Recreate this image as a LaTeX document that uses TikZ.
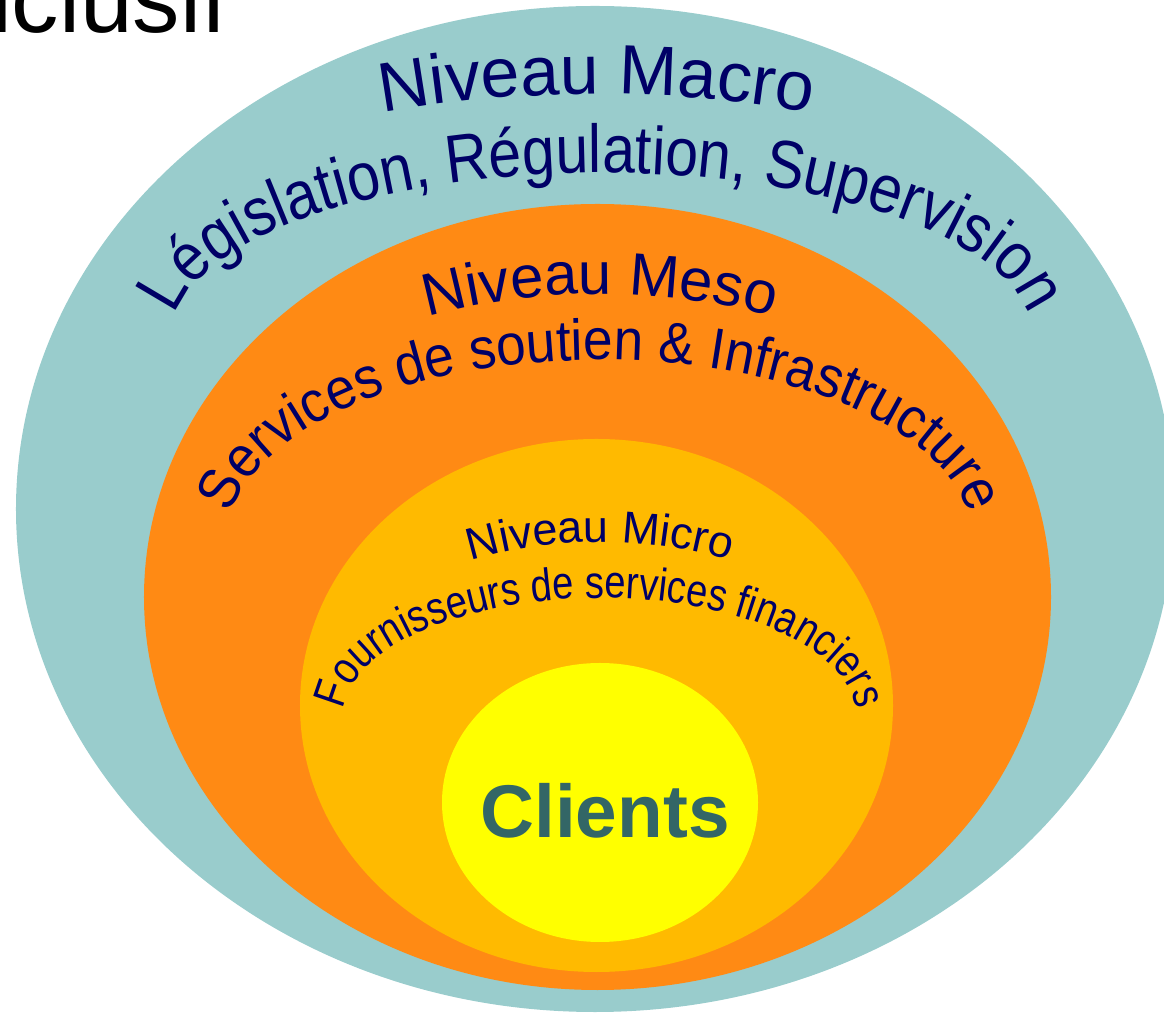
\documentclass[tikz,border=0pt]{standalone}
\usepackage{fontspec}
\setmainfont{Liberation Sans}
\newfontfamily\fA{Liberation Sans}
\newfontfamily\fB[FakeStretch=0.87]{Liberation Sans}
\newfontfamily\fD[FakeStretch=0.92]{Liberation Sans}
\newfontfamily\fF[FakeStretch=0.83]{Liberation Sans}
\usetikzlibrary{shapes.geometric,decorations.text}
\definecolor{tealc}{HTML}{99CCCC}
\definecolor{orangec}{HTML}{FF8A14}
\definecolor{amberc}{HTML}{FFBA00}
\definecolor{yellowc}{HTML}{FFFF00}
\definecolor{navyc}{HTML}{000066}
\definecolor{clientc}{HTML}{336666}
\tikzset{
  ring/.style={ellipse, inner sep=0pt, draw=none},
  arctext/.style={decorate, decoration={text along path, text align=center, text color=navyc, text={#1}}}
}
\begin{document}
\begin{tikzpicture}[x=1bp,y=1bp]
\useasboundingbox (0,0) rectangle (1164,1013);
% nested levels
\node[ring, fill=tealc, minimum width=1158bp, minimum height=1006bp] (macro) at (595,504) {};
\node[ring, fill=orangec, minimum width=907bp, minimum height=786bp] (meso) at (597.5,416) {};
\node[ring, fill=amberc, minimum width=593bp, minimum height=533bp] (micro) at (596.5,307.5) {};
\node[ring, fill=yellowc, minimum width=316bp, minimum height=279bp] (clients) at (600,210.5) {};
% title fragment
\node[anchor=base west, inner sep=0pt, font=\fontsize{95}{100}\selectfont\fA] (title) at (-62,980) {inclusif};
% macro texts
\path[arctext={|\fontsize{70}{80}\selectfont\fA|Niveau Macro}]
  (597,683) ++(200:548bp and 236bp) arc[start angle=200, end angle=-20, x radius=548bp, y radius=236bp];
\path[arctext={|\fontsize{68}{80}\selectfont\fB|Législation, Régulation, Supervision}]
  (602,677) ++(200:430bp and 163bp) arc[start angle=200, end angle=-20, x radius=430bp, y radius=163bp];
% meso texts
\path[arctext={|\fontsize{60}{70}\selectfont\fA|Niveau Meso}]
  (600,481) ++(200:405bp and 238bp) arc[start angle=200, end angle=-20, x radius=405bp, y radius=238bp];
\path[arctext={|\fontsize{58}{70}\selectfont\fD|Services de soutien {\&} Infrastructure}]
  (600,472) ++(200:373bp and 181bp) arc[start angle=200, end angle=-20, x radius=373bp, y radius=181bp];
% micro texts
\path[arctext={|\fontsize{45}{54}\selectfont\fA|Niveau Micro}]
  (600,293) ++(200:289bp and 178bp) arc[start angle=200, end angle=-20, x radius=289bp, y radius=178bp];
\path[arctext={|\fontsize{46}{54}\selectfont\fF|Fournisseurs de services financiers}]
  (600,296) ++(200:257bp and 119bp) arc[start angle=200, end angle=-20, x radius=257bp, y radius=119bp];
% clients
\node[anchor=base, inner sep=0pt, text=clientc, font=\fontsize{75}{80}\selectfont\fA\bfseries] (clientlabel) at (605,175) {Clients};
\end{tikzpicture}
\end{document}
